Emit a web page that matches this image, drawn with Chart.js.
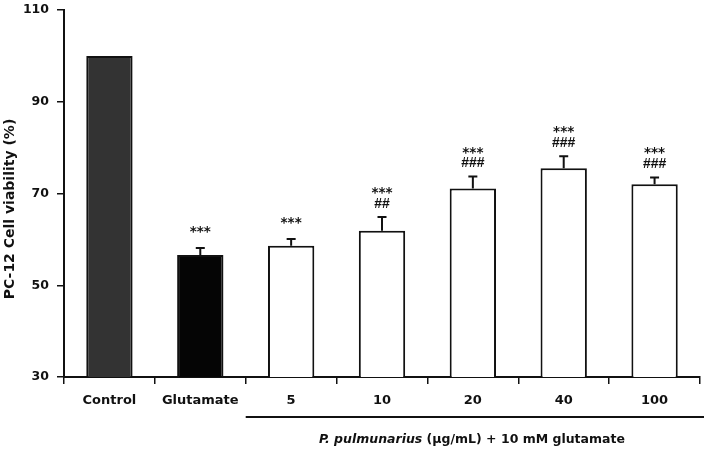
<!DOCTYPE html>
<html>
<head>
<meta charset="utf-8">
<script src="https://cdn.jsdelivr.net/npm/chart.js@4.4.1/dist/chart.umd.min.js"></script>
<style>
  html, body { margin: 0; padding: 0; background: #fff; }
  #grafico { display: block; }
</style>
</head>
<body>
<canvas id="grafico" width="709" height="449"></canvas>
<script>
// Datos
const categorias = ['Control', 'Glutamate', '5', '10', '20', '40', '100'];
const viabilidad = [100, 56.6, 58.6, 61.9, 71.1, 75.5, 72.0];   // % de viabilidad
const errorSEM = [0, 1.5, 1.5, 3.0, 2.6, 2.6, 1.5];              // barra de error (+)
const marcasAst = ['', '***', '***', '***', '***', '***', '***']; // vs control
const marcasHash = ['', '', '', '##', '###', '###', '###'];       // vs glutamato
const ticksY = [30, 50, 70, 90, 110];

const coloresBarra = ['#333333', '#050505', '#ffffff', '#ffffff', '#ffffff', '#ffffff', '#ffffff'];
const fuente = '"DejaVu Sans", Verdana, sans-serif';
const fuenteHash = '"Liberation Sans", Arial, sans-serif';
const tinta = '#111111';

// Plugin: barras de error, asteriscos, título del eje Y y etiqueta del grupo
const anotaciones = {
  id: 'anotaciones',
  afterDatasetsDraw(chart) {
    const ctx = chart.ctx;
    const meta = chart.getDatasetMeta(0);
    const y = chart.scales.y;
    const x = chart.scales.x;
    ctx.save();
    ctx.strokeStyle = tinta;
    ctx.fillStyle = tinta;
    ctx.lineWidth = 2;

    meta.data.forEach((barra, i) => {
      const yTop = y.getPixelForValue(viabilidad[i]);
      let yCap = yTop;
      if (errorSEM[i] > 0) {
        yCap = y.getPixelForValue(viabilidad[i] + errorSEM[i]);
        ctx.beginPath();
        ctx.moveTo(barra.x, yTop);
        ctx.lineTo(barra.x, yCap);
        ctx.moveTo(barra.x - 4.5, yCap);
        ctx.lineTo(barra.x + 4.5, yCap);
        ctx.stroke();
      }
      ctx.textAlign = 'center';
      ctx.textBaseline = 'middle';
      if (marcasHash[i]) {
        ctx.font = 'bold 14px ' + fuenteHash;
        ctx.fillText(marcasHash[i], barra.x, yCap - 13);
        ctx.font = 'bold 13.5px ' + fuente;
        ctx.fillText(marcasAst[i], barra.x, yCap - 27 + 3.5);
      } else if (marcasAst[i]) {
        ctx.font = 'bold 13.5px ' + fuente;
        ctx.fillText(marcasAst[i], barra.x, yCap - 19 + 3.5);
      }
    });

    // Título del eje Y
    ctx.save();
    ctx.translate(10, 209);
    ctx.rotate(-Math.PI / 2);
    ctx.font = 'bold 14px ' + fuente;
    ctx.textAlign = 'center';
    ctx.textBaseline = 'middle';
    ctx.fillText('PC-12 Cell viability (%)', 0, 0);
    ctx.restore();

    // Línea bajo los tratamientos con P. pulmunarius
    const xIni = x.getPixelForValue(2) - (x.getPixelForValue(3) - x.getPixelForValue(2)) / 2;
    ctx.beginPath();
    ctx.moveTo(xIni, 417);
    ctx.lineTo(x.right + 4, 417);
    ctx.stroke();

    // Etiqueta del grupo (parte en cursiva)
    const parte1 = 'P. pulmunarius';
    const parte2 = ' (µg/mL) + 10 mM glutamate';
    const f1 = 'italic bold 12.5px ' + fuente;
    const f2 = 'bold 12.5px ' + fuente;
    ctx.font = f1;
    const w1 = ctx.measureText(parte1).width;
    ctx.font = f2;
    const w2 = ctx.measureText(parte2).width;
    const inicio = 472 - (w1 + w2) / 2;
    ctx.textAlign = 'left';
    ctx.textBaseline = 'middle';
    ctx.font = f1;
    ctx.fillText(parte1, inicio, 440);
    ctx.font = f2;
    ctx.fillText(parte2, inicio + w1, 440);
    ctx.restore();
  }
};

new Chart(document.getElementById('grafico').getContext('2d'), {
  type: 'bar',
  data: {
    labels: categorias,
    datasets: [{
      data: viabilidad,
      backgroundColor: coloresBarra,
      borderColor: tinta,
      borderWidth: 2,
      barPercentage: 0.51,
      categoryPercentage: 1.0
    }]
  },
  options: {
    responsive: false,
    animation: false,
    layout: { padding: { top: 10, right: 9, left: 0, bottom: 0 } },
    plugins: {
      legend: { display: false },
      tooltip: { enabled: false }
    },
    scales: {
      x: {
        grid: {
          offset: true,
          drawOnChartArea: false,
          drawTicks: true,
          tickLength: 7,
          tickColor: tinta,
          lineWidth: 1.5
        },
        border: { display: true, color: tinta, width: 2 },
        ticks: {
          color: tinta,
          padding: 9,
          font: { family: fuente, size: 13, weight: 'bold' }
        },
        afterFit(scale) { scale.height = 72; }
      },
      y: {
        min: 30,
        max: 110,
        afterBuildTicks(scale) { scale.ticks = ticksY.map(v => ({ value: v })); },
        grid: {
          drawOnChartArea: false,
          drawTicks: true,
          tickLength: 7,
          tickColor: tinta,
          lineWidth: 1.5
        },
        border: { display: true, color: tinta, width: 2 },
        ticks: {
          color: tinta,
          padding: 8,
          font: { family: fuente, size: 12.5, weight: 'bold' }
        },
        afterFit(scale) {
          scale.width = 64;
          scale.paddingTop = 0;
          scale.paddingBottom = 0;
        }
      }
    }
  },
  plugins: [anotaciones]
});
</script>
</body>
</html>
